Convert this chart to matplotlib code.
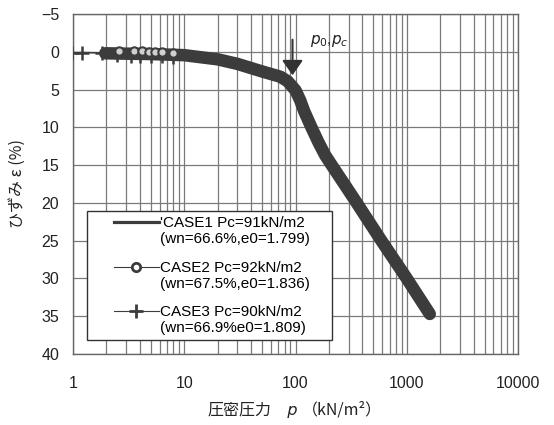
import numpy as np
import matplotlib
matplotlib.use("Agg")
import matplotlib.pyplot as plt
from matplotlib.lines import Line2D
from matplotlib.legend_handler import HandlerLine2D
from matplotlib.offsetbox import TextArea, HPacker, AnchoredOffsetbox

plt.rcParams['font.family'] = ['Liberation Sans', 'Noto Sans CJK JP', 'DejaVu Sans']

# consolidation pressure p (kN/m2) and strain (%)
p_case1 = [1.95, 3, 5, 10, 20, 30, 50, 73, 85, 100, 110, 120, 139, 161, 185, 218, 280, 355, 591, 1000, 1610]
e_case1 = [0.2, 0.25, 0.3, 0.45, 1.0, 1.6, 2.6, 3.3, 3.9, 5.1, 6.4, 7.9, 10.0, 12.0, 13.7, 15.3, 17.7, 20.0, 25.0, 30.0, 34.7]

p_case2 = [2.0, 2.6, 3.5, 4.2, 4.8, 5.5, 6.3, 8.0, 10, 20, 30, 50, 73, 85, 100, 110, 120, 139, 161, 185, 218, 280, 355, 591, 1000, 1600]
e_case2 = [0.0, -0.1, -0.1, -0.1, 0.0, 0.0, 0.05, 0.15, 0.3, 0.9, 1.5, 2.5, 3.2, 3.8, 5.0, 6.3, 7.8, 9.9, 11.9, 13.6, 15.2, 17.6, 19.9, 24.9, 29.9, 34.6]

p_case3 = [0.97, 1.2, 1.83, 2.5, 3.3, 4.0, 5.0, 6.3, 8.0, 10, 20, 30, 50, 73, 85, 100, 110, 120, 139, 161, 185, 218, 280, 355, 591, 1000, 1590]
e_case3 = [0.1, 0.1, 0.15, 0.45, 0.5, 0.5, 0.55, 0.6, 0.65, 0.7, 1.1, 1.7, 2.7, 3.4, 4.0, 5.2, 6.5, 8.0, 10.1, 12.1, 13.8, 15.4, 17.8, 20.1, 25.1, 30.1, 34.6]

labels = ["'CASE1 Pc=91kN/m2\n(wn=66.6%,e0=1.799)",
          "CASE2 Pc=92kN/m2\n(wn=67.5%,e0=1.836)",
          "CASE3 Pc=90kN/m2\n(wn=66.9%e0=1.809)"]

x_ticks = [1, 10, 100, 1000, 10000]
x_ticklabels = ['1', '10', '100', '1000', '10000']
y_ticks = list(range(-5, 41, 5))

p_arrow = 94
dark = '#3c3c3c'
txt = '#222222'
jp = ['Noto Sans CJK JP', 'DejaVu Sans']


class ShiftedLine(HandlerLine2D):
    # put the legend handle on the first line of a two-line label
    def __init__(self, dy=0.0, **kw):
        super().__init__(**kw)
        self.dy = dy

    def create_artists(self, legend, orig_handle, xdescent, ydescent, width, height, fontsize, trans):
        arts = super().create_artists(legend, orig_handle, xdescent, ydescent, width, height, fontsize, trans)
        for a in arts:
            a.set_ydata(np.asarray(a.get_ydata(), dtype=float) + self.dy * fontsize)
        return arts


fig = plt.figure(figsize=(5.54, 4.25), dpi=100)
ax = fig.add_axes([73/554, 1-354/425, 445/554, 340/425])

ax.set_xscale('log')
ax.set_xlim(1, 10000)
ax.set_ylim(40, -5)

ax.grid(True, which='major', color='#7a7a7a', lw=0.9)
ax.grid(True, which='minor', axis='x', color='#7a7a7a', lw=0.9)
ax.set_axisbelow(True)

ax.plot(p_case3, e_case3, color=dark, lw=1.2, marker='+', ms=10, mew=1.8, markevery=slice(0, 9), zorder=3)
ax.plot(p_case1, e_case1, color=dark, lw=9, solid_capstyle='round', solid_joinstyle='round', zorder=4)
ax.plot(p_case2, e_case2, color=dark, lw=1, marker='o', ms=6, mfc='#d0d0d0', mec=dark, mew=1.5,
        markevery=slice(1, 8), zorder=5)

ax.annotate('', xy=(p_arrow, 3.1), xytext=(p_arrow, -1.6),
            arrowprops=dict(arrowstyle='-|>,head_length=0.5,head_width=0.35', mutation_scale=18,
                            color='#333333', lw=1.5, shrinkA=0, shrinkB=0), zorder=6)
ax.text(134, -1.4, r'$p_0$,$p_c$', fontsize=11, va='center', ha='left', color=txt)

ax.set_xticks(x_ticks)
ax.set_xticklabels(x_ticklabels)
ax.set_yticks(y_ticks)
ax.xaxis.set_minor_formatter(plt.NullFormatter())
ax.tick_params(axis='both', which='both', length=0, labelsize=11.5, colors=txt)
ax.tick_params(axis='x', pad=16)
ax.tick_params(axis='y', pad=10)
for s in ax.spines.values():
    s.set_color('#666666')
    s.set_linewidth(1.0)

# x label: Japanese text + italic p + full-width brackets
parts = [TextArea('圧密圧力', textprops=dict(family=jp, fontsize=11.5, color=txt)),
         TextArea('   p ', textprops=dict(family='DejaVu Sans', style='italic', fontsize=11.5, color=txt)),
         TextArea('（kN/m²）', textprops=dict(family=jp, fontsize=11.5, color=txt))]
xlab = AnchoredOffsetbox(loc='center', child=HPacker(children=parts, align='baseline', pad=0, sep=0),
                         bbox_to_anchor=(0.5325, 0.035), bbox_transform=fig.transFigure,
                         frameon=False, pad=0, borderpad=0)
ax.add_artist(xlab)

ax.set_ylabel('ひずみ ε (%)', fontsize=11.5, labelpad=11, color=txt, family=jp)

h1 = Line2D([], [], color=dark, lw=2.3)
h2 = Line2D([], [], color=dark, lw=0.8, marker='o', ms=6, mfc='white', mec=dark, mew=2)
h3 = Line2D([], [], color=dark, lw=0.8, marker='+', ms=10, mew=2)
hm = {h: ShiftedLine(dy=0.6, xpad=1.45) for h in (h1, h2, h3)}
leg = ax.legend([h1, h2, h3], labels, handler_map=hm, loc='lower left',
                bbox_to_anchor=(14/445, 14/340, 245/445, 0.3), mode='expand', borderaxespad=0,
                fontsize=11, handlelength=4.4, handletextpad=0.1, borderpad=0.3,
                labelspacing=0.95, fancybox=False, framealpha=1, edgecolor='#333333')
leg.get_frame().set_linewidth(1.0)
leg.set_zorder(10)

fig.savefig('out.png', dpi=100)
